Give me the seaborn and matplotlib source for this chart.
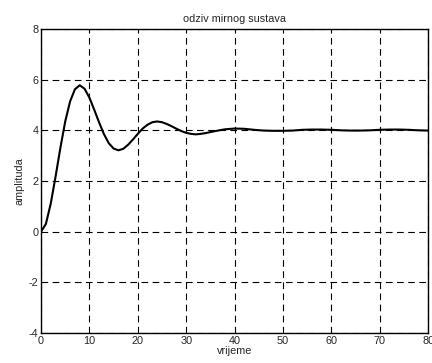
import pandas as pd
import matplotlib
matplotlib.use("Agg")
import matplotlib.pyplot as plt
import seaborn as sns

# values (step response)
vrijeme = [0, 1, 2, 3, 4, 5, 6, 7, 8, 9, 10, 11, 12, 13, 14, 15, 16, 17, 18, 19,
           20, 21, 22, 23, 24, 25, 26, 27, 28, 29, 30, 31, 32, 33, 34, 35, 36,
           38, 40, 42, 44, 46, 48, 50, 52, 54, 56, 58, 60, 62, 64, 66, 68, 70,
           72, 74, 76, 78, 80]
amplituda = [0.0, 0.30, 1.10, 2.17, 3.31, 4.35, 5.14, 5.62, 5.78, 5.64, 5.29,
             4.81, 4.31, 3.85, 3.49, 3.28, 3.21, 3.27, 3.43, 3.64, 3.86, 4.07,
             4.22, 4.32, 4.35, 4.32, 4.25, 4.16, 4.06, 3.97, 3.90, 3.86, 3.84,
             3.86, 3.89, 3.93, 3.97, 4.04, 4.07, 4.06, 4.02, 3.99, 3.98, 3.98,
             3.99, 4.02, 4.03, 4.03, 4.02, 4.00, 3.99, 3.99, 4.00, 4.02, 4.03,
             4.03, 4.02, 4.00, 3.99]

x_ticks = [0, 10, 20, 30, 40, 50, 60, 70, 80]
y_ticks = [-4, -2, 0, 2, 4, 6, 8]

df = pd.DataFrame({"vrijeme": vrijeme, "amplituda": amplituda})

sns.set_style("white")
plt.rcParams["font.family"] = ["Liberation Sans", "DejaVu Sans"]
plt.rcParams["font.stretch"] = "normal"
plt.rcParams["axes.unicode_minus"] = False

fig = plt.figure(figsize=(4.32, 3.63), dpi=100)
ax = fig.add_axes([0.095, 0.083, 0.896, 0.837])

sns.lineplot(data=df, x="vrijeme", y="amplituda", color="black", linewidth=1.5, ax=ax)

ax.set_xlim(0, 80)
ax.set_ylim(-4, 8)
ax.set_xticks(x_ticks)
ax.set_yticks(y_ticks)
ax.grid(True, color="black", linestyle=(0, (6, 4)), linewidth=0.8)
ax.tick_params(direction="in", length=3, labelsize=7.8, color="black", pad=2)
for s in ax.spines.values():
    s.set_color("black")
    s.set_linewidth(1.0)

ax.set_title("odziv mirnog sustava", fontsize=7.8, pad=5)
ax.set_xlabel("vrijeme", fontsize=7.8, labelpad=0)
ax.set_ylabel("amplituda", fontsize=7.8, labelpad=3)

fig.savefig("out.png", dpi=100)
